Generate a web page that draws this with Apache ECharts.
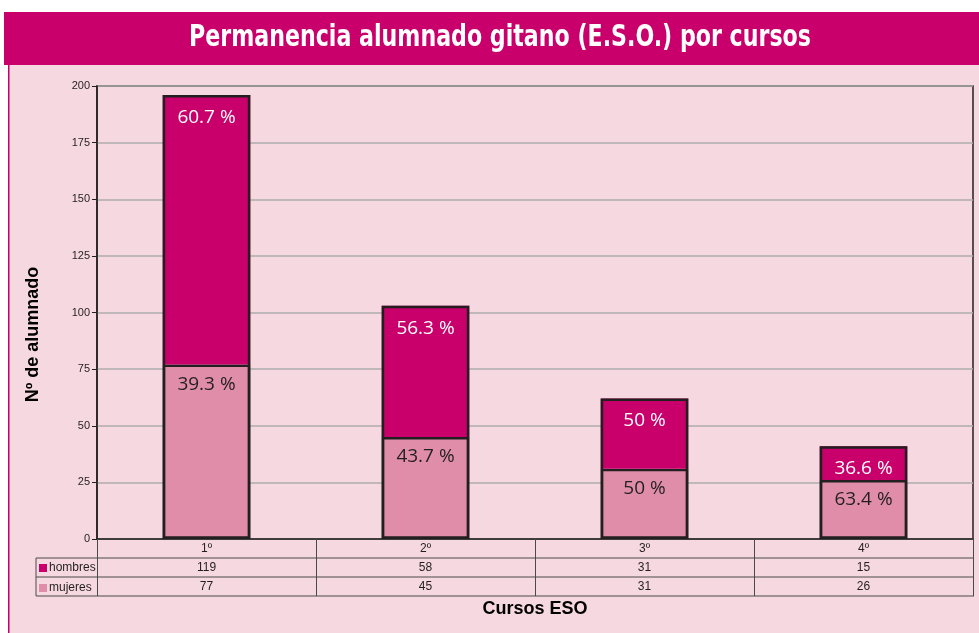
<!DOCTYPE html>
<html>
<head>
<meta charset="utf-8">
<script src="https://cdn.jsdelivr.net/npm/echarts@6/dist/echarts.min.js"></script>
<style>
html,body{margin:0;padding:0;background:#fff;}
#chart{width:979px;height:633px;}
</style>
</head>
<body>
<div id="chart"></div>
<script>
const titleText = 'Permanencia alumnado gitano (E.S.O.) por cursos';
const categories = ['1º', '2º', '3º', '4º'];
const hombres = [119, 58, 31, 15];
const mujeres = [77, 45, 31, 26];
const pctHombres = ['60.7 %', '56.3 %', '50 %', '36.6 %'];
const pctMujeres = ['39.3 %', '43.7 %', '50 %', '63.4 %'];
const yMin = 0, yMax = 200, yStep = 25;

const totals = hombres.map((h, i) => h + mujeres[i]);

const MAGENTA = '#C9006B';
const ROSE = '#E08DA9';
const PANEL = '#F6D8E0';
const DARK = '#231F20';
const TABLE = '#4A4A4A';
const sans = '"Liberation Sans", Arial, sans-serif';

const chart = echarts.init(document.getElementById('chart'));

const tableAxis = (vals, offset) => ({
  type: 'category', data: categories, position: 'bottom', offset: offset,
  axisLine: {show: false}, axisTick: {show: false},
  axisLabel: {margin: 4, fontSize: 12, color: DARK, fontFamily: sans,
    formatter: (v, i) => String(vals[i])}
});

const hline = (y) => ({type: 'line', shape: {x1: 36, y1: y, x2: 974, y2: y},
  style: {stroke: TABLE, lineWidth: 1}, silent: true});

chart.setOption({
  backgroundColor: PANEL,
  animation: false,
  graphic: {elements: [
    {type: 'rect', shape: {x: 0, y: 0, width: 979, height: 12}, style: {fill: '#fff'}, silent: true},
    {type: 'rect', shape: {x: 0, y: 0, width: 8, height: 633}, style: {fill: '#fff'}, silent: true},
    {type: 'rect', shape: {x: 4, y: 12, width: 975, height: 53}, style: {fill: MAGENTA}, silent: true},
    {type: 'rect', shape: {x: 8, y: 65, width: 1.5, height: 568}, style: {fill: MAGENTA}, silent: true},
    {type: 'text', x: 500, y: 38, scaleX: 0.82, silent: true,
      style: {text: titleText, fill: '#fff', align: 'center', verticalAlign: 'middle',
        font: 'bold 30px "DejaVu Sans Condensed", "Liberation Sans", sans-serif'}},
    hline(558), hline(577), hline(596),
    {type: 'line', shape: {x1: 36, y1: 558, x2: 36, y2: 596}, style: {stroke: TABLE, lineWidth: 1}, silent: true}
  ]},
  legend: {
    data: ['hombres', 'mujeres'], orient: 'vertical', left: 39, top: 562, padding: 0,
    itemWidth: 8, itemHeight: 8, itemGap: 8, icon: 'rect',
    itemStyle: {borderWidth: 0},
    textStyle: {fontSize: 12, color: DARK, fontFamily: sans, lineHeight: 11, padding: [0, 0, 0, -3]}
  },
  grid: {left: 97, right: 6, top: 86, bottom: 94, show: true,
    borderColor: DARK, borderWidth: 1.5, backgroundColor: 'transparent'},
  xAxis: [
    {
      type: 'category', data: categories, position: 'bottom',
      axisLine: {lineStyle: {color: DARK, width: 1.5}},
      axisTick: {show: true, length: 57, lineStyle: {color: TABLE, width: 1}},
      axisLabel: {margin: 4, fontSize: 12, color: DARK, fontFamily: sans},
      name: 'Cursos ESO', nameLocation: 'middle', nameGap: 61,
      nameTextStyle: {fontWeight: 'bold', fontSize: 18, color: '#000', fontFamily: sans}
    },
    tableAxis(hombres, 19),
    tableAxis(mujeres, 38)
  ],
  yAxis: {
    type: 'value', min: yMin, max: yMax, interval: yStep,
    axisLine: {show: true, lineStyle: {color: DARK, width: 1.5}},
    axisTick: {show: true, length: 5, lineStyle: {color: DARK, width: 1}},
    axisLabel: {margin: 7, fontSize: 11, color: DARK, fontFamily: sans},
    splitLine: {lineStyle: {color: '#ADADAD', width: 1.5}},
    name: 'Nº de alumnado', nameLocation: 'middle', nameGap: 55, nameRotate: 90,
    nameTextStyle: {fontWeight: 'bold', fontSize: 18, color: '#000', fontFamily: sans,
      padding: [0, 44, 0, 0]}
  },
  series: [
    {
      name: 'mujeres', type: 'bar', stack: 'total', data: mujeres, barWidth: '40%',
      itemStyle: {color: ROSE, borderColor: DARK, borderWidth: 2.5},
      label: {show: true, position: 'insideTop', distance: 10,
        formatter: p => pctMujeres[p.dataIndex],
        color: DARK, fontSize: 19, fontFamily: '"Open Sans", sans-serif'}
    },
    {
      name: 'hombres', type: 'bar', stack: 'total', data: hombres, barWidth: '40%',
      itemStyle: {color: MAGENTA, borderWidth: 0},
      label: {show: true, position: 'insideTop', distance: 13,
        formatter: p => pctHombres[p.dataIndex],
        color: '#fff', fontSize: 19, fontFamily: '"Open Sans", sans-serif'}
    },
    {
      name: 'total', type: 'bar', data: totals, barWidth: '40%', barGap: '-100%',
      silent: true, z: 5,
      itemStyle: {color: 'rgba(0,0,0,0)', borderColor: DARK, borderWidth: 2.5},
      label: {show: false}
    }
  ]
});
</script>
</body>
</html>
